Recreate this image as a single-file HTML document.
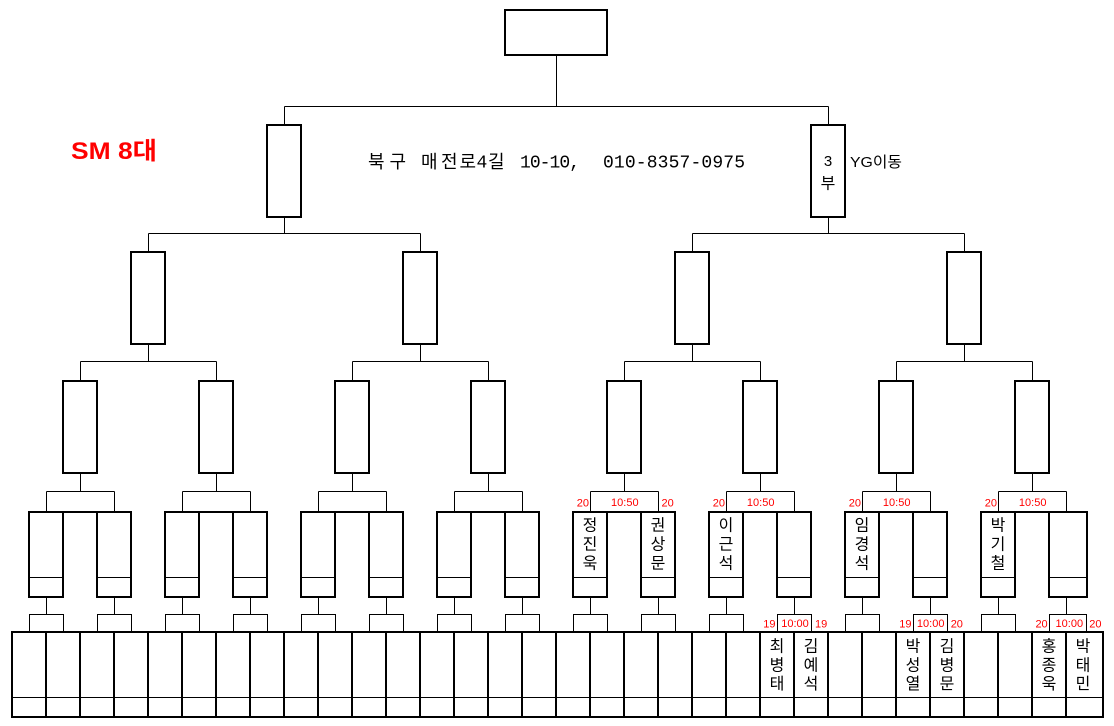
<!DOCTYPE html>
<html>
<head>
<meta charset="utf-8">
<style>
html,body{margin:0;padding:0;background:#fff;}
svg{display:block;}
.k{font-family:"Liberation Sans","Noto Sans CJK KR",sans-serif;}
.m{font-family:"Liberation Mono","Noto Sans CJK KR",monospace;}
.h{font-family:"Liberation Sans","Noto Sans CJK KR",sans-serif;font-size:18px;fill:#000;}
.r{font-family:"Liberation Sans",sans-serif;font-size:11px;fill:#f00;}
.n{font-family:"Liberation Sans","Noto Sans CJK KR",sans-serif;font-size:16px;fill:#000;text-anchor:middle;}
</style>
</head>
<body>
<svg width="1114" height="726" viewBox="0 0 1114 726" xmlns="http://www.w3.org/2000/svg">
<rect x="0" y="0" width="1114" height="726" fill="#fff"/>

<!-- thin connectors -->
<path fill="none" stroke="#000" stroke-width="1" d="
M556.5 55V106.5 M284.5 106.5H828.5 M284.5 106.5V125 M828.5 106.5V125
M284.5 217V233.5 M828.5 217V233.5
M148.5 233.5H420.5 M692.5 233.5H964.5
M148.5 233.5V252 M420.5 233.5V252 M692.5 233.5V252 M964.5 233.5V252
M148.5 344V361.5 M420.5 344V361.5 M692.5 344V361.5 M964.5 344V361.5
M80.5 361.5H216.5 M352.5 361.5H488.5 M624.5 361.5H760.5 M896.5 361.5H1032.5
M80.5 361.5V381 M216.5 361.5V381 M352.5 361.5V381 M488.5 361.5V381 M624.5 361.5V381 M760.5 361.5V381 M896.5 361.5V381 M1032.5 361.5V381
M80.5 473V491.5 M216.5 473V491.5 M352.5 473V491.5 M488.5 473V491.5 M624.5 473V491.5 M760.5 473V491.5 M896.5 473V491.5 M1032.5 473V491.5
M46.5 491.5H114.5 M182.5 491.5H250.5 M318.5 491.5H386.5 M454.5 491.5H522.5 M590.5 491.5H658.5 M726.5 491.5H794.5 M862.5 491.5H930.5 M998.5 491.5H1066.5
M46.5 491.5V512 M114.5 491.5V512 M182.5 491.5V512 M250.5 491.5V512 M318.5 491.5V512 M386.5 491.5V512 M454.5 491.5V512 M522.5 491.5V512 M590.5 491.5V512 M658.5 491.5V512 M726.5 491.5V512 M794.5 491.5V512 M862.5 491.5V512 M930.5 491.5V512 M998.5 491.5V512 M1066.5 491.5V512
M46.5 597V614.5 M114.5 597V614.5 M182.5 597V614.5 M250.5 597V614.5 M318.5 597V614.5 M386.5 597V614.5 M454.5 597V614.5 M522.5 597V614.5 M590.5 597V614.5 M658.5 597V614.5 M726.5 597V614.5 M794.5 597V614.5 M862.5 597V614.5 M930.5 597V614.5 M998.5 597V614.5 M1066.5 597V614.5
M29 577.5H63 M97 577.5H131 M165 577.5H199 M233 577.5H267 M301 577.5H335 M369 577.5H403 M437 577.5H471 M505 577.5H539
M573 577.5H607 M641 577.5H675 M709 577.5H743 M777 577.5H811 M845 577.5H879 M913 577.5H947 M981 577.5H1015 M1049 577.5H1087
M12 697.5H1103
"/>

<!-- small boxes -->
<g fill="none" stroke="#000" stroke-width="1">
<rect x="29.5" y="614.5" width="34" height="17"/>
<rect x="97.5" y="614.5" width="34" height="17"/>
<rect x="165.5" y="614.5" width="34" height="17"/>
<rect x="233.5" y="614.5" width="34" height="17"/>
<rect x="301.5" y="614.5" width="34" height="17"/>
<rect x="369.5" y="614.5" width="34" height="17"/>
<rect x="437.5" y="614.5" width="34" height="17"/>
<rect x="505.5" y="614.5" width="34" height="17"/>
<rect x="573.5" y="614.5" width="34" height="17"/>
<rect x="641.5" y="614.5" width="34" height="17"/>
<rect x="709.5" y="614.5" width="34" height="17"/>
<rect x="777.5" y="614.5" width="34" height="17"/>
<rect x="845.5" y="614.5" width="34" height="17"/>
<rect x="913.5" y="614.5" width="34" height="17"/>
<rect x="981.5" y="614.5" width="34" height="17"/>
<rect x="1049.5" y="614.5" width="37" height="17"/>
</g>

<!-- thick boxes -->
<g fill="none" stroke="#000" stroke-width="2">
<rect x="505" y="10" width="102" height="45"/>
<rect x="267" y="125" width="34" height="92"/>
<rect x="811" y="125" width="34" height="92"/>
<rect x="131" y="252" width="34" height="92"/>
<rect x="403" y="252" width="34" height="92"/>
<rect x="675" y="252" width="34" height="92"/>
<rect x="947" y="252" width="34" height="92"/>
<rect x="63" y="381" width="34" height="92"/>
<rect x="199" y="381" width="34" height="92"/>
<rect x="335" y="381" width="34" height="92"/>
<rect x="471" y="381" width="34" height="92"/>
<rect x="607" y="381" width="34" height="92"/>
<rect x="743" y="381" width="34" height="92"/>
<rect x="879" y="381" width="34" height="92"/>
<rect x="1015" y="381" width="34" height="92"/>

<!-- R5 pairs -->
<rect x="29" y="512" width="34" height="85"/><rect x="97" y="512" width="34" height="85"/>
<rect x="165" y="512" width="34" height="85"/><rect x="233" y="512" width="34" height="85"/>
<rect x="301" y="512" width="34" height="85"/><rect x="369" y="512" width="34" height="85"/>
<rect x="437" y="512" width="34" height="85"/><rect x="505" y="512" width="34" height="85"/>
<rect x="573" y="512" width="34" height="85"/><rect x="641" y="512" width="34" height="85"/>
<rect x="709" y="512" width="34" height="85"/><rect x="777" y="512" width="34" height="85"/>
<rect x="845" y="512" width="34" height="85"/><rect x="913" y="512" width="34" height="85"/>
<rect x="981" y="512" width="34" height="85"/><rect x="1049" y="512" width="38" height="85"/>
<path d="M63 512H97 M199 512H233 M335 512H369 M471 512H505 M607 512H641 M743 512H777 M879 512H913 M1015 512H1049"/>

<!-- table -->
<rect x="12" y="632" width="1091" height="85"/>
<path d="M46 632V717 M80 632V717 M114 632V717 M148 632V717 M182 632V717 M216 632V717 M250 632V717 M284 632V717 M318 632V717 M352 632V717 M386 632V717 M420 632V717 M454 632V717 M488 632V717 M522 632V717 M556 632V717 M590 632V717 M624 632V717 M658 632V717 M692 632V717 M726 632V717 M760 632V717 M794 632V717 M828 632V717 M862 632V717 M896 632V717 M930 632V717 M964 632V717 M998 632V717 M1032 632V717 M1066 632V717"/>
</g>

<!-- header texts -->
<text class="k" x="71" y="159" font-size="24" font-weight="bold" fill="#f00" textLength="86" lengthAdjust="spacingAndGlyphs">SM 8대</text>
<text class="h" x="368" y="168">북</text>
<text class="h" x="389.5" y="168">구</text>
<text class="h" x="421" y="168">매</text>
<text class="h" x="441" y="168">전</text>
<text class="h" x="459.5" y="168">로</text>
<text class="m" x="476.5" y="167.3" font-size="18">4</text>
<text class="h" x="488" y="168">길</text>
<text class="m" x="520" y="167.3" font-size="18" textLength="60" lengthAdjust="spacing">10-10,</text>
<text class="m" x="603" y="167.3" font-size="18" textLength="142" lengthAdjust="spacing">010-8357-0975</text>
<text class="k" x="828" y="166" font-size="15" text-anchor="middle">3</text>
<text class="k" x="828" y="188.4" font-size="16" text-anchor="middle">부</text>
<text class="k" x="850" y="167" font-size="15" textLength="52" lengthAdjust="spacingAndGlyphs">YG이동</text>

<!-- red times R5 -->
<text class="r" x="589" y="506.5" text-anchor="end">20</text>
<text class="r" x="624.8" y="506" text-anchor="middle">10:50</text>
<text class="r" x="661.5" y="506.5">20</text>
<text class="r" x="725" y="506.5" text-anchor="end">20</text>
<text class="r" x="760.7" y="506" text-anchor="middle">10:50</text>
<text class="r" x="861" y="506.5" text-anchor="end">20</text>
<text class="r" x="896.7" y="506" text-anchor="middle">10:50</text>
<text class="r" x="997" y="506.5" text-anchor="end">20</text>
<text class="r" x="1032.7" y="506" text-anchor="middle">10:50</text>

<!-- red times small boxes -->
<text class="r" x="775.5" y="627.5" text-anchor="end">19</text>
<text class="r" x="795" y="627" text-anchor="middle">10:00</text>
<text class="r" x="815" y="627.5">19</text>
<text class="r" x="911.5" y="627.5" text-anchor="end">19</text>
<text class="r" x="930.7" y="627" text-anchor="middle">10:00</text>
<text class="r" x="950.7" y="627.5">20</text>
<text class="r" x="1047.7" y="627.5" text-anchor="end">20</text>
<text class="r" x="1069.3" y="627" text-anchor="middle">10:00</text>
<text class="r" x="1089.3" y="627.5">20</text>

<!-- names in R5 boxes -->
<text class="n" x="590" y="530.5">정</text><text class="n" x="590" y="549.5">진</text><text class="n" x="590" y="568.5">욱</text>
<text class="n" x="658" y="530.5">권</text><text class="n" x="658" y="549.5">상</text><text class="n" x="658" y="568.5">문</text>
<text class="n" x="726" y="530.5">이</text><text class="n" x="726" y="549.5">근</text><text class="n" x="726" y="568.5">석</text>
<text class="n" x="862" y="530.5">임</text><text class="n" x="862" y="549.5">경</text><text class="n" x="862" y="568.5">석</text>
<text class="n" x="998" y="530.5">박</text><text class="n" x="998" y="549.5">기</text><text class="n" x="998" y="568.5">철</text>

<!-- names in table -->
<text class="n" x="777" y="651.5">최</text><text class="n" x="777" y="670.5">병</text><text class="n" x="777" y="689">태</text>
<text class="n" x="811" y="651.5">김</text><text class="n" x="811" y="670.5">예</text><text class="n" x="811" y="689">석</text>
<text class="n" x="913" y="651.5">박</text><text class="n" x="913" y="670.5">성</text><text class="n" x="913" y="689">열</text>
<text class="n" x="947" y="651.5">김</text><text class="n" x="947" y="670.5">병</text><text class="n" x="947" y="689">문</text>
<text class="n" x="1049" y="651.5">홍</text><text class="n" x="1049" y="670.5">종</text><text class="n" x="1049" y="689">욱</text>
<text class="n" x="1083" y="651.5">박</text><text class="n" x="1083" y="670.5">태</text><text class="n" x="1083" y="689">민</text>
</svg>
</body>
</html>
